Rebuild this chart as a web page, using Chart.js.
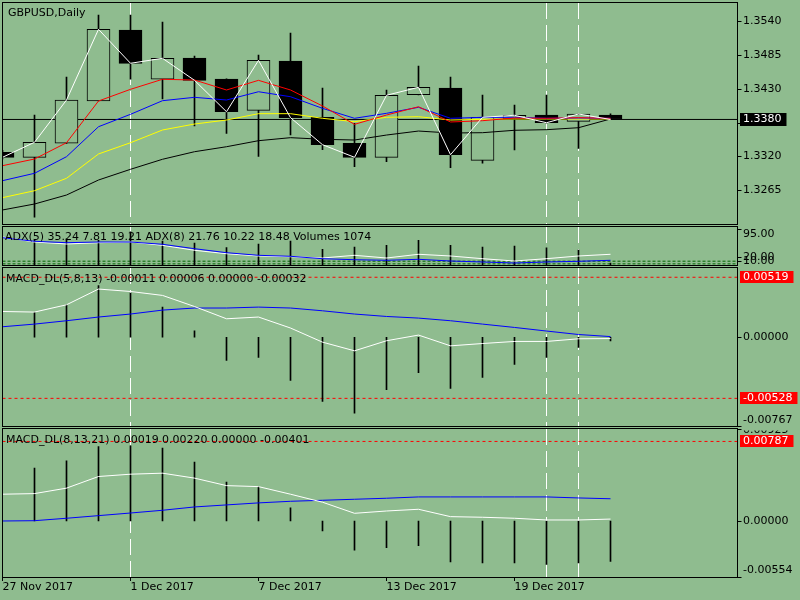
<!DOCTYPE html>
<html><head><meta charset="utf-8">
<script src="https://cdn.jsdelivr.net/npm/chart.js@4.4.1/dist/chart.umd.min.js"></script>
<style>
html,body{margin:0;padding:0;background:#8FBC8F;width:800px;height:600px;overflow:hidden}
canvas{position:absolute;left:0}
</style></head><body>
<canvas id="cMain" width="800" height="226" style="top:0px;width:800px;height:226px"></canvas>
<canvas id="cAdx" width="800" height="40" style="top:226px;width:800px;height:40px"></canvas>
<canvas id="cMacd1" width="800" height="161" style="top:266px;width:800px;height:161px"></canvas>
<canvas id="cMacd2" width="800" height="173" style="top:427px;width:800px;height:173px"></canvas>
<script>
// ---------- data ----------
const dates = ['27 Nov 2017','28 Nov 2017','29 Nov 2017','30 Nov 2017','1 Dec 2017','4 Dec 2017','5 Dec 2017','6 Dec 2017','7 Dec 2017','8 Dec 2017','11 Dec 2017','12 Dec 2017','13 Dec 2017','14 Dec 2017','15 Dec 2017','18 Dec 2017','19 Dec 2017','20 Dec 2017','21 Dec 2017','22 Dec 2017'];
const dateTickIdx = [0,4,8,12,16];
const markerIdx = [4,17,18];
const xSlots = 735/32;

const open  = [1.33266,1.33185,1.33413,1.34100,1.35254,1.34453,1.34799,1.34457,1.33949,1.34750,1.33835,1.33413,1.33185,1.34202,1.34311,1.33136,1.33812,1.33873,1.33770,1.33873];
const high  = [1.33300,1.33872,1.34490,1.35498,1.35498,1.35384,1.34831,1.34460,1.34848,1.35205,1.34311,1.33738,1.34279,1.34669,1.34490,1.34198,1.34035,1.34198,1.33890,1.33890];
const low   = [1.33160,1.32210,1.33410,1.34100,1.34457,1.34133,1.33694,1.33575,1.33201,1.33548,1.33309,1.33032,1.33114,1.34200,1.33016,1.33088,1.33304,1.33740,1.33331,1.33800];
const close = [1.33185,1.33429,1.34116,1.35265,1.34713,1.34794,1.34436,1.33926,1.34761,1.33829,1.33390,1.33185,1.34193,1.34323,1.33227,1.33835,1.33868,1.33747,1.33889,1.33800];
const maRed    = [1.33049,1.33157,1.33422,1.34100,1.34290,1.34453,1.34441,1.34279,1.34436,1.34279,1.34019,1.33721,1.33872,1.34007,1.33759,1.33780,1.33824,1.33819,1.33829,1.33819];
const maBlue   = [1.32805,1.32925,1.33195,1.33682,1.33884,1.34105,1.34160,1.34116,1.34251,1.34170,1.33981,1.33819,1.33900,1.33998,1.33819,1.33835,1.33835,1.33819,1.33824,1.33819];
const maYellow = [1.32529,1.32642,1.32844,1.33239,1.33422,1.33629,1.33726,1.33791,1.33894,1.33894,1.33819,1.33764,1.33835,1.33845,1.33791,1.33803,1.33808,1.33808,1.33808,1.33808];
const maBlack  = [1.32329,1.32426,1.32572,1.32816,1.32990,1.33153,1.33276,1.33357,1.33455,1.33504,1.33478,1.33466,1.33547,1.33612,1.33580,1.33585,1.33624,1.33634,1.33666,1.33808];
const priceTicks = [1.3540,1.3485,1.3430,1.3375,1.3320,1.3265];
const lastPrice = 1.3380;
const priceMin = 1.32101, priceMax = 1.35693;

const adxWhite = [73.7,60.5,55.3,58.7,60.5,51.8,38.7,29.7,23.7,21.8,18.4,25.5,18.4,28.2,23.7,16.6,10.5,16.6,23.7,28.2];
const adxBlue  = [71.8,62.4,58.7,60.5,60.5,54.5,42.9,32.4,25.5,22.9,16.6,13.9,12.4,15.0,10.5,7.9,5.3,7.9,9.7,12.4];
const volumes  = [null,65,69,65,87,63,58,46,55,63,41,47,52,65,52,47,50,45,39,5];
const adxLevels = [10,3];
const adxTickVals = [95,20,10];

const macd1Main   = [0.00223,0.00218,0.00281,0.00417,0.00396,0.00362,0.00266,0.00160,0.00175,0.00080,-0.00042,-0.00117,-0.00030,0.00019,-0.00074,-0.00054,-0.00036,-0.00036,-0.00013,-0.00011];
const macd1Signal = [0.00091,0.00114,0.00143,0.00175,0.00201,0.00235,0.00253,0.00253,0.00261,0.00253,0.00229,0.00201,0.00180,0.00166,0.00143,0.00114,0.00085,0.00054,0.00024,0.00006];
const macd1Hist   = [null,0.00215,0.00281,0.00448,0.00382,0.00261,0.00056,-0.00201,-0.00175,-0.00374,-0.00555,-0.00656,-0.00452,-0.00305,-0.00443,-0.00348,-0.00235,-0.00175,-0.00088,-0.00032];
const macd1Levels = [0.00519,-0.00528];
const macd1Min = -0.00767, macd1Max = 0.00599;

const macd2Main   = [0.00265,0.00271,0.00325,0.00440,0.00463,0.00473,0.00424,0.00350,0.00340,0.00265,0.00186,0.00076,0.00099,0.00116,0.00043,0.00037,0.00027,0.00010,0.00010,0.00019];
const macd2Signal = [0.00000,0.00003,0.00027,0.00053,0.00079,0.00106,0.00139,0.00159,0.00179,0.00195,0.00205,0.00215,0.00225,0.00238,0.00238,0.00238,0.00238,0.00238,0.00228,0.00220];
const macd2Hist   = [null,0.00523,0.00595,0.00737,0.00744,0.00721,0.00583,0.00384,0.00340,0.00129,-0.00099,-0.00288,-0.00265,-0.00245,-0.00404,-0.00414,-0.00414,-0.00430,-0.00414,-0.00401];
const macd2Levels = [0.00787];
const macd2Min = -0.00554, macd2Max = 0.0091;
const macd2TopLabel = '0.00925';

// ---------- helpers ----------
Chart.defaults.font.family = 'DejaVu Sans';
Chart.defaults.font.size = 11;
Chart.defaults.color = '#000';
const FONT = '11px "DejaVu Sans"';
const BG = '#8FBC8F';
const pts = a => a.map((v,i)=> v==null?null:{x:i,y:v}).filter(Boolean);
const bars = a => a.map((v,i)=> v==null?null:{x:i,y:[0,v]}).filter(Boolean);
const hline = v => [{x:0,y:v},{x:xSlots,y:v}];
const lineDs = (data,color,order,extra) => Object.assign({type:'line',data,borderColor:color,borderWidth:1,pointRadius:0,tension:0,fill:false,order},extra||{});

function mtPlugin(o){
  return {
    id:'mt_'+o.name,
    beforeDatasetsDraw(chart){
      const {ctx, chartArea:ca, scales:{x}} = chart;
      ctx.save();
      ctx.strokeStyle='#FFFFFF'; ctx.lineWidth=1; ctx.setLineDash([16,6]);
      markerIdx.forEach(i=>{
        const px=Math.floor(x.getPixelForValue(i))+0.5;
        ctx.beginPath(); ctx.moveTo(px, ca.top); ctx.lineTo(px, ca.bottom); ctx.stroke();
      });
      ctx.restore();
    },
    afterDraw(chart){
      const {ctx, chartArea:ca, scales:{y}} = chart;
      ctx.save();
      ctx.strokeStyle='#000'; ctx.lineWidth=1;
      const l=Math.floor(ca.left)+0.5, r=Math.floor(ca.right)+0.5;
      ctx.strokeRect(l, ca.top-0.5, r-l, ca.bottom-ca.top+1);
      ctx.font=FONT; ctx.textAlign='left';
      ctx.fillStyle='#000'; ctx.textBaseline='alphabetic';
      ctx.fillText(o.title, o.tx, o.ty);
      ctx.textBaseline='middle';
      o.labels.forEach(lb=>{
        const py=y.getPixelForValue(lb.v);
        if(lb.tick!==false){
          ctx.strokeStyle='#000';
          ctx.beginPath(); ctx.moveTo(r, Math.round(py)+0.5); ctx.lineTo(r+4, Math.round(py)+0.5); ctx.stroke();
        }
        const ty = py + (lb.dy||0);
        ctx.save();
        if(lb.clipTop){ ctx.beginPath(); ctx.rect(r+1, ty, 800, 40); ctx.clip(); }
        if(lb.bg){
          const w=ctx.measureText(lb.t).width;
          ctx.fillStyle=lb.bg; ctx.fillRect(740, Math.round(ty)-6, w+8, lb.h||12);
          ctx.fillStyle='#FFFFFF';
        } else ctx.fillStyle='#000';
        ctx.fillText(lb.t, 743, ty);
        ctx.restore();
      });
      ctx.restore();
    }
  };
}

function baseOptions(padTop, padBottom, yMin, yMax, showX){
  const x = {type:'linear',min:0,max:xSlots,offset:false,display:!!showX,
         afterBuildTicks:s=>{ s.ticks = dateTickIdx.map(v=>({value:v})); },
         ticks:{autoSkip:false,maxRotation:0,minRotation:0,align:'start',padding:0,color:'#000',
                font:{family:'DejaVu Sans',size:11},callback:v=>dates[v]},
         grid:{offset:false,drawOnChartArea:false,drawTicks:true,tickLength:4,color:'#000'},
         border:{display:true,color:'#000'}};
  if(showX) x.afterFit = s=>{ s.height = 23; };
  return {
    responsive:false, animation:false, devicePixelRatio:1, events:[],
    layout:{padding:{left:2.5,right:62.5,top:padTop,bottom:padBottom}},
    plugins:{legend:{display:false},tooltip:{enabled:false}},
    scales:{ x, y:{type:'linear',min:yMin,max:yMax,display:false} }
  };
}

const barBase = {type:'bar',grouped:false,borderSkipped:false};
const histDs = (arr,order) => Object.assign({},barBase,{data:bars(arr),backgroundColor:'#000000',borderColor:'#000000',borderWidth:0,barThickness:1,minBarLength:1,order});

// ---------- main price panel ----------
new Chart(document.getElementById('cMain'),{
  type:'bar',
  data:{datasets:[
    lineDs(hline(lastPrice),'#000000',20),
    Object.assign({},barBase,{data:low.map((v,i)=>({x:i,y:[v,high[i]]})),backgroundColor:'#000',borderWidth:0,barThickness:1,order:19}),
    Object.assign({},barBase,{data:open.map((v,i)=>({x:i,y:[v,close[i]]})),
      backgroundColor:open.map((v,i)=> close[i]>=v?BG:'#000'),borderColor:'#000',borderWidth:1,barThickness:23,order:18}),
    lineDs(pts(maBlack),'#000000',5),
    lineDs(pts(maYellow),'#FFFF00',4),
    lineDs(pts(maBlue),'#0000FF',3),
    lineDs(pts(maRed),'#FF0000',2),
    lineDs(pts(close),'#FFFFFF',1)
  ]},
  options:baseOptions(3,2,priceMin,priceMax,false),
  plugins:[mtPlugin({name:'main',title:'GBPUSD,Daily',tx:8,ty:15.5,
    labels:priceTicks.map(v=>({v,t:v.toFixed(4)})).concat([{v:lastPrice,t:lastPrice.toFixed(4),bg:'#000',tick:false,h:13}])})]
});

// ---------- ADX / volumes panel ----------
new Chart(document.getElementById('cAdx'),{
  type:'bar',
  data:{datasets:[
    ...adxLevels.map(v=>lineDs(hline(v),'#006400',10,{borderDash:[3,2]})),
    histDs(volumes,9),
    lineDs(pts(adxWhite),'#FFFFFF',2),
    lineDs(pts(adxBlue),'#0000FF',1)
  ]},
  options:baseOptions(1,1,0,100,false),
  plugins:[mtPlugin({name:'adx',title:'ADX(5) 35.24 7.81 19.21 ADX(8) 21.76 10.22 18.48 Volumes 1074',tx:5,ty:13.5,
    labels:adxTickVals.map((v,i)=>({v,t:v.toFixed(2),dy:i===0?5:0}))})]
});

// ---------- MACD (5,8,13) ----------
new Chart(document.getElementById('cMacd1'),{
  type:'bar',
  data:{datasets:[
    ...macd1Levels.map(v=>lineDs(hline(v),'#FF0000',10,{borderDash:[3,3]})),
    histDs(macd1Hist,9),
    lineDs(pts(macd1Signal),'#0000FF',2),
    lineDs(pts(macd1Main),'#FFFFFF',1)
  ]},
  options:baseOptions(2,1,macd1Min,macd1Max,false),
  plugins:[mtPlugin({name:'macd1',title:'MACD_DL(5,8,13) -0.00011 0.00006 0.00000 -0.00032',tx:6,ty:16.3,
    labels:[{v:0,t:(0).toFixed(5)},{v:macd1Min,t:macd1Min.toFixed(5),dy:-6}]
      .concat(macd1Levels.map(v=>({v,t:v.toFixed(5),bg:'#FF0000',tick:false})))})]
});

// ---------- MACD (8,13,21) ----------
new Chart(document.getElementById('cMacd2'),{
  type:'bar',
  data:{datasets:[
    ...macd2Levels.map(v=>lineDs(hline(v),'#FF0000',10,{borderDash:[3,3]})),
    histDs(macd2Hist,9),
    lineDs(pts(macd2Signal),'#0000FF',2),
    lineDs(pts(macd2Main),'#FFFFFF',1)
  ]},
  options:baseOptions(2,0,macd2Min,macd2Max,true),
  plugins:[mtPlugin({name:'macd2',title:'MACD_DL(8,13,21) 0.00019 0.00220 0.00000 -0.00401',tx:6,ty:16.3,
    labels:[{v:macd2Max,t:macd2TopLabel,dy:1.5,clipTop:true},{v:0,t:(0).toFixed(5)},{v:macd2Min,t:macd2Min.toFixed(5),dy:-7}]
      .concat(macd2Levels.map(v=>({v,t:v.toFixed(5),bg:'#FF0000',tick:false})))})]
});
</script>
</body></html>
